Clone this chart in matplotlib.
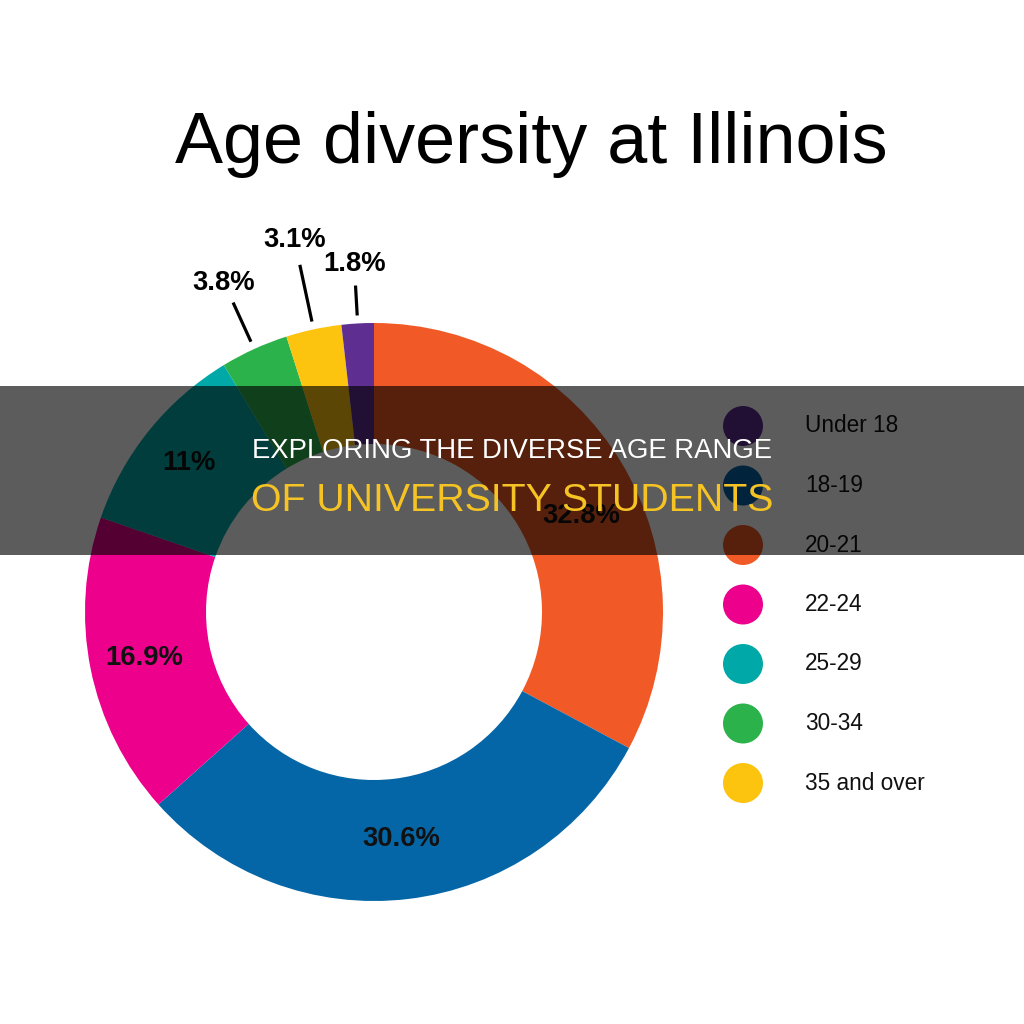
import matplotlib
matplotlib.use("Agg")
import matplotlib.pyplot as plt
import numpy as np
from matplotlib import font_manager as fm
from matplotlib.patches import Rectangle, Circle

# ---------------- data ----------------
categories = ['Under 18', '18-19', '20-21', '22-24', '25-29', '30-34', '35 and over']
shares = [1.8, 30.6, 32.8, 16.9, 11.0, 3.8, 3.1]
share_labels = ['1.8%', '30.6%', '32.8%', '16.9%', '11%', '3.8%', '3.1%']
colors = ['#5E2E91', '#0466A6', '#F15A26', '#EC008C', '#00A9A8', '#2CB24B', '#FCC30F']
pie_order = [2, 1, 3, 4, 5, 6, 0]          # clockwise from 12 o'clock
outside = {'3.8%': 362, '3.1%': 380, '1.8%': 349}   # label radius (px) for small slices
nudge = {'32.8%': 6.0}                              # label angle tweaks (deg)
inner_r = {'11%': 238, '16.9%': 234}                # label radius tweaks (px)

title = 'Age diversity at Illinois'
banner1 = 'EXPLORING THE DIVERSE AGE RANGE'
banner2 = 'OF UNIVERSITY STUDENTS'

# ---------------- fonts ----------------
names = {f.name for f in fm.fontManager.ttflist}
narrow = 'Liberation Sans Narrow' if 'Liberation Sans Narrow' in names else 'Liberation Sans'
FAM = [narrow, 'DejaVu Sans']
BAN = ['Liberation Sans', 'DejaVu Sans']

fig = plt.figure(figsize=(10.24, 10.24), dpi=100)
fig.patch.set_facecolor('white')
ax = fig.add_axes([0, 0, 1, 1])

cx, cy, R, ring = 374, 612, 289, 121

vals = [shares[i] for i in pie_order]
cols = [colors[i] for i in pie_order]
wedges, _ = ax.pie(vals, colors=cols, startangle=-90, counterclock=True,
                   radius=R, center=(cx, cy),
                   wedgeprops=dict(width=ring, edgecolor='none', linewidth=0))
ax.set_xlim(0, 1024)
ax.set_ylim(1024, 0)
ax.set_aspect('equal')
ax.axis('off')

renderer = fig.canvas.get_renderer()

def fit(t, width):
    w = t.get_window_extent(renderer).width
    t.set_fontsize(t.get_fontsize() * width / w)
    return t

# common size for the percentage labels, sized from the widest one
probe = ax.text(0, 0, '30.6%', fontsize=20, fontweight='bold', family=FAM)
fit(probe, 78)
pct_fs = probe.get_fontsize()
probe.remove()

for w, idx in zip(wedges, pie_order):
    lab = share_labels[idx]
    mid = np.deg2rad((w.theta1 + w.theta2) / 2 + nudge.get(lab, 0.0))
    if lab in outside:
        r = outside[lab]
        ax.text(cx + r * np.cos(mid), cy + r * np.sin(mid), lab, ha='center', va='center',
                fontsize=pct_fs, fontweight='bold', family=FAM, color='black', zorder=5)
        r0, r1 = 297, r - 22 if lab != '3.1%' else r - 25
        ax.plot([cx + r0 * np.cos(mid), cx + r1 * np.cos(mid)],
                [cy + r0 * np.sin(mid), cy + r1 * np.sin(mid)],
                color='black', lw=2.3, solid_capstyle='butt', zorder=5)
    else:
        r = inner_r.get(lab, R - ring / 2)
        ax.text(cx + r * np.cos(mid), cy + r * np.sin(mid), lab, ha='center', va='center',
                fontsize=pct_fs, fontweight='bold', family=FAM, color='#111111', zorder=5)

# legend
lx, ly0, ldy = 743, 426, 59.5
for i, (cat, col) in enumerate(zip(categories, colors)):
    y = ly0 + i * ldy
    ax.add_patch(Circle((lx, y), 20, facecolor=col, edgecolor='none', zorder=4))
    t = ax.text(805, y, cat, ha='left', va='center', fontsize=22, family=FAM, color='#111111', zorder=5)
    if i == 0:
        fit(t, 93)
        leg_fs = t.get_fontsize()
    else:
        t.set_fontsize(leg_fs)

# title
tt = ax.text(531, 163, title, ha='center', va='baseline', fontsize=60, family=FAM, color='black')
fit(tt, 713)

# overlay band
ax.add_patch(Rectangle((0, 386), 1024, 169, facecolor='black', alpha=0.64, edgecolor='none', zorder=10))

b1 = ax.text(512, 458, banner1, ha='center', va='baseline', fontsize=20, family=BAN, color='white', zorder=11)
fit(b1, 519)
b2 = ax.text(512, 511, banner2, ha='center', va='baseline', fontsize=28, family=BAN, color='#F6C324', zorder=11)
fit(b2, 523)

fig.savefig('out.png', dpi=100, facecolor='white')
